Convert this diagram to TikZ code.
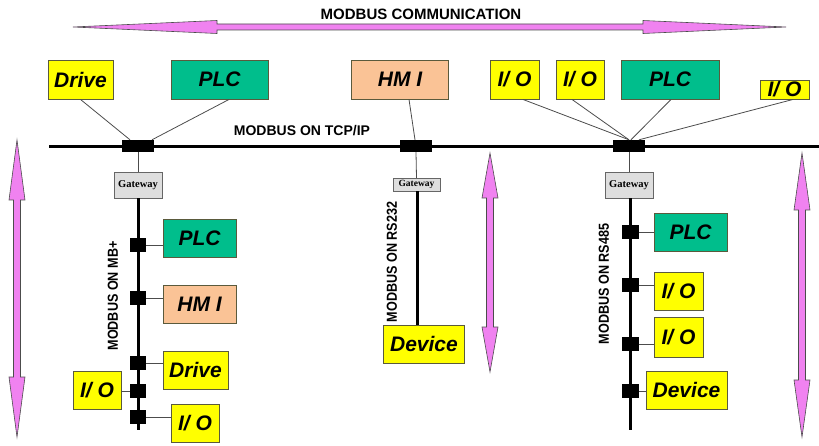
\documentclass[tikz,border=0pt]{standalone}
\usepackage{fontspec}
\setmainfont{Liberation Sans}
\newfontfamily\gwfont{Liberation Serif}
\definecolor{ylw}{RGB}{255,255,0}
\definecolor{grn}{RGB}{0,190,140}
\definecolor{pch}{RGB}{250,195,150}
\definecolor{vio}{RGB}{240,130,240}
\definecolor{bord}{RGB}{90,90,60}
\tikzset{
 dev/.style={draw=bord, line width=0.9pt, inner sep=0pt, font=\fontsize{21}{21}\selectfont\bfseries\itshape},
 yb/.style={dev, fill=ylw},
 gb/.style={dev, fill=grn},
 pb/.style={dev, fill=pch},
 blk/.style={fill=black, draw=none, inner sep=0pt},
 bus/.style={line width=3pt, black},
 link/.style={draw=black!70, line width=0.8pt},
 gw/.style={draw=black!60, fill=black!13, inner sep=0pt, font=\gwfont\fontsize{10.5}{10.5}\selectfont\bfseries},
 lbl/.style={font=\fontsize{14}{14}\selectfont\bfseries, inner sep=0pt},
 vlbl/.style={font=\fontsize{14.5}{14.5}\selectfont\bfseries, rotate=90, inner sep=0pt},
 arr/.style={fill=vio, draw=black!70, line width=0.6pt},
}
\newcommand{\vdarrow}[4]{\draw[arr] (#1,#2) -- (#1+8,#2+#4) -- (#1+3.5,#2+#4) -- (#1+3.5,#3-#4) -- (#1+8,#3-#4) -- (#1,#3) -- (#1-8,#3-#4) -- (#1-3.5,#3-#4) -- (#1-3.5,#2+#4) -- (#1-8,#2+#4) -- cycle;}
\newcommand{\cond}[1]{\scalebox{0.87}[1]{#1}}
\begin{document}
\begin{tikzpicture}[x=1pt,y=-1pt]
\useasboundingbox (0,0) rectangle (819,446);
% title arrow
\draw[arr] (73,27) -- (217,20.5) -- (217,24) -- (643,24) -- (643,20.5) -- (786,27) -- (643,33.5) -- (643,30) -- (217,30) -- (217,33.5) -- cycle;
\node[lbl, font=\fontsize{15}{15}\selectfont\bfseries] (title) at (421,14) {MODBUS COMMUNICATION};
% vertical arrows
\vdarrow{17}{140}{437}{60}
\vdarrow{490}{153}{372}{45}
\vdarrow{802}{153}{437}{57}
% main bus
\coordinate (busL) at (49,147);
\coordinate (busR) at (819,147);
\draw[bus] (busL) -- (busR);
\node[lbl] (tcp) at (302,131) {MODBUS ON TCP/IP};
\node[blk, minimum width=32pt, minimum height=12pt] (b1) at (138,146) {};
\node[blk, minimum width=32pt, minimum height=12pt] (b2) at (416,146) {};
\node[blk, minimum width=32pt, minimum height=12pt] (b3) at (629,146) {};
% top devices
\node[yb, minimum width=65pt, minimum height=39pt] (drive) at (80.5,79.5) {Drive};
\node[gb, minimum width=97pt, minimum height=39pt] (plc1) at (219.5,79.5) {PLC};
\node[pb, minimum width=97pt, minimum height=39pt] (hmi1) at (400,79.5) {HM I};
\node[yb, minimum width=49pt, minimum height=39pt] (io1) at (514.5,79.5) {I/ O};
\node[yb, minimum width=48pt, minimum height=39pt] (io2) at (580,79.5) {I/ O};
\node[gb, minimum width=98pt, minimum height=39pt] (plc2) at (670,79.5) {PLC};
\node[yb, minimum width=49pt, minimum height=19pt] (io3) at (784.5,89.5) {I/ O};
\draw[link] (drive.south) -- ([xshift=-8pt]b1.north);
\draw[link] ([xshift=9.5pt]plc1.south) -- ([xshift=14pt]b1.north);
\draw[link] ([xshift=9pt]hmi1.south) -- ([xshift=-1pt]b2.north);
\draw[link] ([xshift=8.5pt]io1.south) -- (b3.north);
\draw[link] ([xshift=-8pt]io2.south) -- (b3.north);
\draw[link] ([xshift=1pt]plc2.south) -- ([xshift=2pt]b3.north);
\draw[link] ([xshift=8.5pt]io3.south) -- ([xshift=10pt]b3.north);
% gateways
\node[gw, minimum width=48pt, minimum height=26pt] (gw1) at (138,185) {Gateway};
\node[gw, minimum width=47pt, minimum height=13pt, font=\gwfont\fontsize{9.5}{9.5}\selectfont\bfseries] (gw2) at (416.5,184.5) {Gateway};
\node[gw, minimum width=48pt, minimum height=26pt] (gw3) at (629,185) {Gateway};
\draw[link] (b1.south) -- (gw1.north);
\draw[link] (b2.south) -- (gw2.north);
\draw[link] (b3.south) -- (gw3.north);
% left MB+ bus
\coordinate (endL) at (138,430);
\draw[bus] (gw1.south) -- (endL);
\node[vlbl] (mbp) at (113,296) {\cond{MODBUS ON MB+}};
\foreach \n/\y in {bL1/245,bL2/298,bL3/363,bL4/391,bL5/417}
  \node[blk, minimum width=16pt, minimum height=14pt] (\n) at (138,\y) {};
\node[gb, minimum width=73pt, minimum height=38pt] (plcL) at (199.5,238) {PLC};
\node[pb, minimum width=73pt, minimum height=38pt] (hmiL) at (199.5,304) {HM I};
\node[yb, minimum width=65pt, minimum height=38pt] (driveL) at (195.5,370) {Drive};
\node[yb, minimum width=48pt, minimum height=38pt] (ioL1) at (97,390) {I/ O};
\node[yb, minimum width=48pt, minimum height=38pt] (ioL2) at (195,423) {I/ O};
\draw[link] (bL1.east) -- (bL1.east -| plcL.west);
\draw[link] (bL2.east) -- (bL2.east -| hmiL.west);
\draw[link] (bL3.east) -- (bL3.east -| driveL.west);
\draw[link] (bL4.west) -- (bL4.west -| ioL1.east);
\draw[link] (bL5.east) -- (bL5.east -| ioL2.west);
% middle RS232
\node[vlbl] (rs232) at (392,262) {\cond{MODBUS ON RS232}};
\node[yb, minimum width=81pt, minimum height=38pt] (devM) at (424,344) {Device};
\draw[bus] ([xshift=0.5pt]gw2.south) -- ([xshift=0.5pt]gw2.south |- devM.north);
% right RS485
\coordinate (endR) at (630,430);
\draw[bus] (gw3.south -| endR) -- (endR);
\node[vlbl] (rs485) at (604,284) {\cond{MODBUS ON RS485}};
\foreach \n/\y in {bR1/232,bR2/285,bR3/344,bR4/391}
  \node[blk, minimum width=17pt, minimum height=14pt] (\n) at (630,\y) {};
\node[gb, minimum width=73pt, minimum height=38pt] (plcR) at (690.5,232) {PLC};
\node[yb, minimum width=49pt, minimum height=38pt] (ioR1) at (678.5,291) {I/ O};
\node[yb, minimum width=49pt, minimum height=40pt] (ioR2) at (678.5,337) {I/ O};
\node[yb, minimum width=81pt, minimum height=38pt] (devR) at (686.5,390) {Device};
\draw[link] (bR1.east) -- (bR1.east -| plcR.west);
\draw[link] (bR2.east) -- (bR2.east -| ioR1.west);
\draw[link] (bR3.east) -- (bR3.east -| ioR2.west);
\draw[link] (bR4.east) -- (bR4.east -| devR.west);
\end{tikzpicture}
\end{document}
